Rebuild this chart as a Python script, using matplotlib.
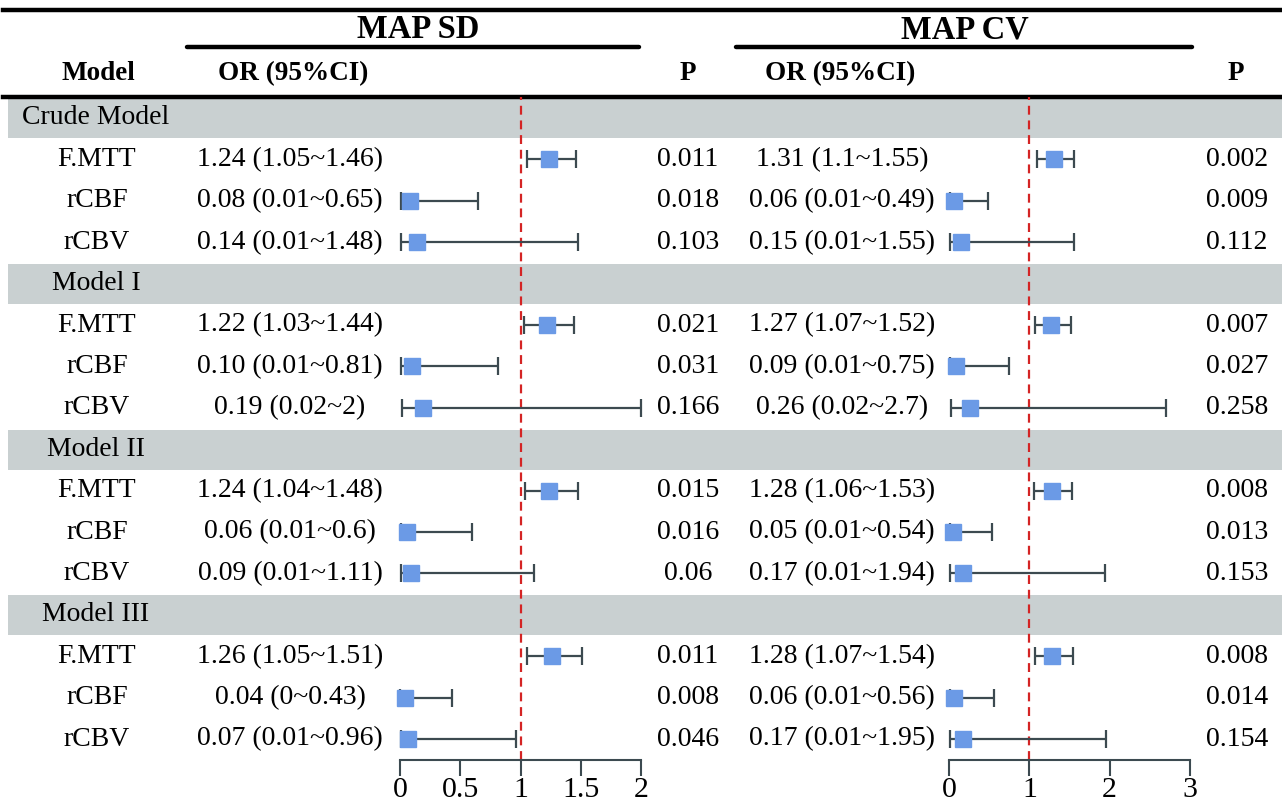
import matplotlib.pyplot as plt

plt.rcParams['font.family'] = ['Liberation Serif', 'DejaVu Serif']

# rows of the table
groups = ["Crude Model", "Model I", "Model II", "Model III"]
variables = ["F.MTT", "rCBF", "rCBV"]

# MAP SD: odds ratio, lower, upper, p (per group, per variable)
sd_or = [1.24, 0.08, 0.14, 1.22, 0.10, 0.19, 1.24, 0.06, 0.09, 1.26, 0.04, 0.07]
sd_lo = [1.05, 0.01, 0.01, 1.03, 0.01, 0.02, 1.04, 0.01, 0.01, 1.05, 0.00, 0.01]
sd_hi = [1.46, 0.65, 1.48, 1.44, 0.81, 2.00, 1.48, 0.60, 1.11, 1.51, 0.43, 0.96]
sd_p = [0.011, 0.018, 0.103, 0.021, 0.031, 0.166, 0.015, 0.016, 0.06, 0.011, 0.008, 0.046]

# MAP CV
cv_or = [1.31, 0.06, 0.15, 1.27, 0.09, 0.26, 1.28, 0.05, 0.17, 1.28, 0.06, 0.17]
cv_lo = [1.10, 0.01, 0.01, 1.07, 0.01, 0.02, 1.06, 0.01, 0.01, 1.07, 0.01, 0.01]
cv_hi = [1.55, 0.49, 1.55, 1.52, 0.75, 2.70, 1.53, 0.54, 1.94, 1.54, 0.56, 1.95]
cv_p = [0.002, 0.009, 0.112, 0.007, 0.027, 0.258, 0.008, 0.013, 0.153, 0.008, 0.014, 0.154]

sd_ticks = [0, 0.5, 1, 1.5, 2]
cv_ticks = [0, 1, 2, 3]

W, H = 1282, 805
fig = plt.figure(figsize=(W / 100, H / 100), dpi=100)

# background axes in pixel units for the table part
bg = fig.add_axes([0, 0, 1, 1])
bg.set_xlim(0, W)
bg.set_ylim(H, 0)
bg.axis('off')

row0 = 118      # centre of first row (pixels)
pitch = 41.4    # row height
top_line = 97
axis_line = 760

band_col = '#c9d0d1'
blue = '#6b9ae6'
dark = '#3c4a50'
fs = 20

# header
bg.plot([3, W], [10, 10], color='black', lw=3.2)
bg.plot([3, W], [top_line, top_line], color='black', lw=3.2)
bg.plot([187, 639], [47, 47], color='black', lw=3.2, solid_capstyle='round')
bg.plot([736, 1192], [47, 47], color='black', lw=3.2, solid_capstyle='round')
bg.text(418, 30, "MAP SD", ha='center', va='center', fontsize=23.5, fontweight='bold')
bg.text(965, 30, "MAP CV", ha='center', va='center', fontsize=23.5, fontweight='bold')
bg.text(98, 74, "Model", ha='center', va='center', fontsize=19.5, fontweight='bold')
bg.text(218, 74, "OR (95%CI)", ha='left', va='center', fontsize=19.5, fontweight='bold')
bg.text(688, 74, "P", ha='center', va='center', fontsize=19.5, fontweight='bold')
bg.text(765, 74, "OR (95%CI)", ha='left', va='center', fontsize=19.5, fontweight='bold')
bg.text(1236, 74, "P", ha='center', va='center', fontsize=19.5, fontweight='bold')

# body
row = 0
k = 0
sd_y = []
cv_y = []
for g in groups:
    y = row0 + row * pitch
    bg.fill_between([8, W], y - 19.5, y + 20.5, color=band_col, lw=0)
    bg.text(96, y, g, ha='center', va='center', fontsize=fs)
    row += 1
    for v in variables:
        y = row0 + row * pitch
        bg.text(97, y, v, ha='center', va='center', fontsize=fs)
        bg.text(290, y, f"{sd_or[k]:.2f} ({sd_lo[k]:g}~{sd_hi[k]:g})",
                ha='center', va='center', fontsize=fs)
        bg.text(688, y, f"{sd_p[k]:g}", ha='center', va='center', fontsize=fs)
        bg.text(842, y, f"{cv_or[k]:.2f} ({cv_lo[k]:g}~{cv_hi[k]:g})",
                ha='center', va='center', fontsize=fs)
        bg.text(1237, y, f"{cv_p[k]:g}", ha='center', va='center', fontsize=fs)
        sd_y.append(row)
        cv_y.append(row)
        row += 1
        k += 1

y_top = (top_line - row0) / pitch
y_bot = (axis_line - row0) / pitch


def forest(x0, x1, ors, los, his, ys, ticks):
    ax = fig.add_axes([x0 / W, (H - axis_line) / H, (x1 - x0) / W,
                       (axis_line - top_line) / H])
    ax.set_xlim(ticks[0], ticks[-1])
    ax.set_ylim(y_bot, y_top)
    ax.patch.set_alpha(0)
    for s in ['top', 'right', 'left']:
        ax.spines[s].set_visible(False)
    ax.spines['bottom'].set_linewidth(1.5)
    ax.spines['bottom'].set_color(dark)
    ax.set_yticks([])
    ax.set_xticks(ticks)
    ax.set_xticklabels([f"{t:g}" for t in ticks])
    ax.tick_params(axis='x', direction='out', length=11.5, width=1.5,
                   color=dark, labelsize=21.5, pad=1)
    ax.axvline(1, color='#d42424', lw=1.6, ls=(0, (4, 2.6)), zorder=1)
    xerr = [[o - l for o, l in zip(ors, los)], [h - o for o, h in zip(ors, his)]]
    ax.errorbar(ors, ys, xerr=xerr, fmt='s', ms=11, mfc=blue, mec=blue,
                ecolor=dark, elinewidth=1.6, capsize=6.5, capthick=1.6,
                zorder=3, clip_on=False)
    return ax


forest(400, 641, sd_or, sd_lo, sd_hi, sd_y, sd_ticks)
forest(949, 1190, cv_or, cv_lo, cv_hi, cv_y, cv_ticks)

fig.savefig("out.png", dpi=100)
